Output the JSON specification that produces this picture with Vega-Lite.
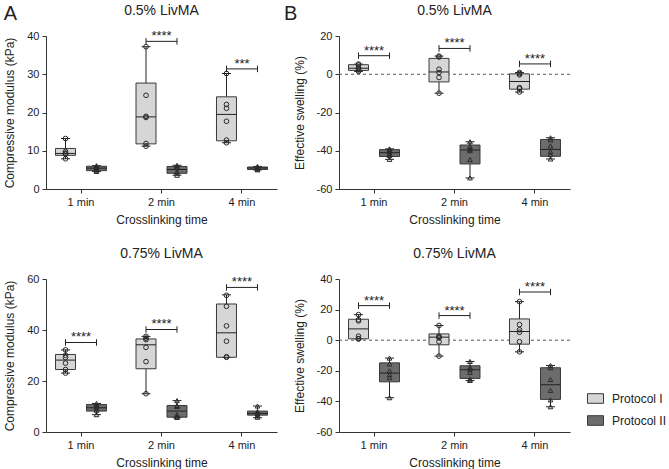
{
  "$schema": "https://vega.github.io/schema/vega-lite/v6.json",
  "background": "white",
  "padding": {"left": 3, "top": 4, "right": 5, "bottom": 2},
  "config": {
    "font": "Liberation Sans",
    "view": {"stroke": null},
    "axis": {"domainColor": "#333", "tickColor": "#333", "labelColor": "#222", "titleColor": "#222", "labelFontSize": 11, "titleFontSize": 12, "titleFontWeight": "normal", "grid": false, "tickSize": 4, "labelPadding": 3, "labelOverlap": false},
    "axisX": {"labelAngle": 0, "titlePadding": 7},
    "axisY": {"titlePadding": 10, "tickCount": 12},
    "title": {"fontSize": 14, "fontWeight": "normal", "color": "#222", "frame": "group", "offset": 12},
    "legend": {"labelFontSize": 12, "labelColor": "#222"}
  },
  "datasets": {
    "box": [
      {"panel": "A1", "time": "1 min", "protocol": "Protocol I", "min": 7.9, "q1": 8.8, "median": 9.3, "q3": 10.6, "max": 13.2},
      {"panel": "A1", "time": "1 min", "protocol": "Protocol II", "min": 4.6, "q1": 4.8, "median": 5.45, "q3": 5.95, "max": 6.1},
      {"panel": "A1", "time": "2 min", "protocol": "Protocol I", "min": 11.2, "q1": 11.8, "median": 18.85, "q3": 27.7, "max": 37.2},
      {"panel": "A1", "time": "2 min", "protocol": "Protocol II", "min": 3.6, "q1": 4.1, "median": 5.1, "q3": 5.9, "max": 6.2},
      {"panel": "A1", "time": "4 min", "protocol": "Protocol I", "min": 12.1, "q1": 12.6, "median": 19.5, "q3": 24.1, "max": 30.2},
      {"panel": "A1", "time": "4 min", "protocol": "Protocol II", "min": 5.0, "q1": 5.1, "median": 5.5, "q3": 5.75, "max": 5.9},
      {"panel": "B1", "time": "1 min", "protocol": "Protocol I", "min": 1.5, "q1": 2.0, "median": 3.15, "q3": 5.0, "max": 5.3},
      {"panel": "B1", "time": "1 min", "protocol": "Protocol II", "min": -44.5, "q1": -43.0, "median": -41.0, "q3": -39.4, "max": -39.0},
      {"panel": "B1", "time": "2 min", "protocol": "Protocol I", "min": -9.9, "q1": -4.0, "median": 1.2, "q3": 8.3, "max": 9.5},
      {"panel": "B1", "time": "2 min", "protocol": "Protocol II", "min": -54.2, "q1": -46.9, "median": -39.6, "q3": -37.0, "max": -35.3},
      {"panel": "B1", "time": "4 min", "protocol": "Protocol I", "min": -9.3, "q1": -7.8, "median": -3.8, "q3": 0.2, "max": 0.9},
      {"panel": "B1", "time": "4 min", "protocol": "Protocol II", "min": -44.3, "q1": -42.9, "median": -39.3, "q3": -34.1, "max": -33.2},
      {"panel": "A2", "time": "1 min", "protocol": "Protocol I", "min": 23.1, "q1": 24.5, "median": 28.2, "q3": 30.4, "max": 32.2},
      {"panel": "A2", "time": "1 min", "protocol": "Protocol II", "min": 6.8, "q1": 8.2, "median": 9.5, "q3": 10.8, "max": 11.2},
      {"panel": "A2", "time": "2 min", "protocol": "Protocol I", "min": 15.0, "q1": 24.8, "median": 34.2, "q3": 36.5, "max": 37.5},
      {"panel": "A2", "time": "2 min", "protocol": "Protocol II", "min": 5.6, "q1": 5.8, "median": 8.2, "q3": 10.4, "max": 12.3},
      {"panel": "A2", "time": "4 min", "protocol": "Protocol I", "min": 29.3, "q1": 29.3, "median": 38.9, "q3": 50.2, "max": 53.8},
      {"panel": "A2", "time": "4 min", "protocol": "Protocol II", "min": 5.6, "q1": 6.6, "median": 7.3, "q3": 8.2, "max": 10.2},
      {"panel": "B2", "time": "1 min", "protocol": "Protocol I", "min": 0.9, "q1": 0.9, "median": 7.4, "q3": 13.7, "max": 16.7},
      {"panel": "B2", "time": "1 min", "protocol": "Protocol II", "min": -37.6, "q1": -27.2, "median": -21.5, "q3": -14.8, "max": -11.7},
      {"panel": "B2", "time": "2 min", "protocol": "Protocol I", "min": -10.4, "q1": -3.0, "median": 2.0, "q3": 4.1, "max": 9.6},
      {"panel": "B2", "time": "2 min", "protocol": "Protocol II", "min": -26.3, "q1": -25.0, "median": -19.3, "q3": -16.7, "max": -13.9},
      {"panel": "B2", "time": "4 min", "protocol": "Protocol I", "min": -7.6, "q1": -2.6, "median": 5.7, "q3": 13.9, "max": 25.2},
      {"panel": "B2", "time": "4 min", "protocol": "Protocol II", "min": -43.5, "q1": -38.7, "median": -29.1, "q3": -18.0, "max": -16.5}
    ],
    "pts": [
      {"panel": "A1", "time": "1 min", "protocol": "Protocol I", "value": 13.2},
      {"panel": "A1", "time": "1 min", "protocol": "Protocol I", "value": 9.8},
      {"panel": "A1", "time": "1 min", "protocol": "Protocol I", "value": 9.4},
      {"panel": "A1", "time": "1 min", "protocol": "Protocol I", "value": 9.2},
      {"panel": "A1", "time": "1 min", "protocol": "Protocol I", "value": 9.1},
      {"panel": "A1", "time": "1 min", "protocol": "Protocol I", "value": 7.9},
      {"panel": "A1", "time": "1 min", "protocol": "Protocol II", "value": 6.1},
      {"panel": "A1", "time": "1 min", "protocol": "Protocol II", "value": 5.9},
      {"panel": "A1", "time": "1 min", "protocol": "Protocol II", "value": 5.6},
      {"panel": "A1", "time": "1 min", "protocol": "Protocol II", "value": 5.3},
      {"panel": "A1", "time": "1 min", "protocol": "Protocol II", "value": 4.9},
      {"panel": "A1", "time": "1 min", "protocol": "Protocol II", "value": 4.6},
      {"panel": "A1", "time": "2 min", "protocol": "Protocol I", "value": 37.2},
      {"panel": "A1", "time": "2 min", "protocol": "Protocol I", "value": 24.5},
      {"panel": "A1", "time": "2 min", "protocol": "Protocol I", "value": 19.0},
      {"panel": "A1", "time": "2 min", "protocol": "Protocol I", "value": 18.7},
      {"panel": "A1", "time": "2 min", "protocol": "Protocol I", "value": 11.9},
      {"panel": "A1", "time": "2 min", "protocol": "Protocol I", "value": 11.2},
      {"panel": "A1", "time": "2 min", "protocol": "Protocol II", "value": 6.2},
      {"panel": "A1", "time": "2 min", "protocol": "Protocol II", "value": 5.8},
      {"panel": "A1", "time": "2 min", "protocol": "Protocol II", "value": 5.6},
      {"panel": "A1", "time": "2 min", "protocol": "Protocol II", "value": 4.6},
      {"panel": "A1", "time": "2 min", "protocol": "Protocol II", "value": 4.2},
      {"panel": "A1", "time": "2 min", "protocol": "Protocol II", "value": 3.6},
      {"panel": "A1", "time": "4 min", "protocol": "Protocol I", "value": 30.2},
      {"panel": "A1", "time": "4 min", "protocol": "Protocol I", "value": 22.1},
      {"panel": "A1", "time": "4 min", "protocol": "Protocol I", "value": 21.1},
      {"panel": "A1", "time": "4 min", "protocol": "Protocol I", "value": 17.7},
      {"panel": "A1", "time": "4 min", "protocol": "Protocol I", "value": 12.8},
      {"panel": "A1", "time": "4 min", "protocol": "Protocol I", "value": 12.1},
      {"panel": "A1", "time": "4 min", "protocol": "Protocol II", "value": 5.9},
      {"panel": "A1", "time": "4 min", "protocol": "Protocol II", "value": 5.7},
      {"panel": "A1", "time": "4 min", "protocol": "Protocol II", "value": 5.6},
      {"panel": "A1", "time": "4 min", "protocol": "Protocol II", "value": 5.4},
      {"panel": "A1", "time": "4 min", "protocol": "Protocol II", "value": 5.2},
      {"panel": "A1", "time": "4 min", "protocol": "Protocol II", "value": 5.0},
      {"panel": "B1", "time": "1 min", "protocol": "Protocol I", "value": 5.3},
      {"panel": "B1", "time": "1 min", "protocol": "Protocol I", "value": 4.9},
      {"panel": "B1", "time": "1 min", "protocol": "Protocol I", "value": 3.4},
      {"panel": "B1", "time": "1 min", "protocol": "Protocol I", "value": 2.9},
      {"panel": "B1", "time": "1 min", "protocol": "Protocol I", "value": 2.2},
      {"panel": "B1", "time": "1 min", "protocol": "Protocol I", "value": 1.5},
      {"panel": "B1", "time": "1 min", "protocol": "Protocol II", "value": -39.0},
      {"panel": "B1", "time": "1 min", "protocol": "Protocol II", "value": -39.5},
      {"panel": "B1", "time": "1 min", "protocol": "Protocol II", "value": -40.5},
      {"panel": "B1", "time": "1 min", "protocol": "Protocol II", "value": -41.5},
      {"panel": "B1", "time": "1 min", "protocol": "Protocol II", "value": -42.5},
      {"panel": "B1", "time": "1 min", "protocol": "Protocol II", "value": -44.5},
      {"panel": "B1", "time": "2 min", "protocol": "Protocol I", "value": 9.5},
      {"panel": "B1", "time": "2 min", "protocol": "Protocol I", "value": 9.0},
      {"panel": "B1", "time": "2 min", "protocol": "Protocol I", "value": 2.6},
      {"panel": "B1", "time": "2 min", "protocol": "Protocol I", "value": 0.9},
      {"panel": "B1", "time": "2 min", "protocol": "Protocol I", "value": -1.7},
      {"panel": "B1", "time": "2 min", "protocol": "Protocol I", "value": -9.9},
      {"panel": "B1", "time": "2 min", "protocol": "Protocol II", "value": -35.3},
      {"panel": "B1", "time": "2 min", "protocol": "Protocol II", "value": -37.8},
      {"panel": "B1", "time": "2 min", "protocol": "Protocol II", "value": -39.2},
      {"panel": "B1", "time": "2 min", "protocol": "Protocol II", "value": -40.0},
      {"panel": "B1", "time": "2 min", "protocol": "Protocol II", "value": -44.6},
      {"panel": "B1", "time": "2 min", "protocol": "Protocol II", "value": -54.2},
      {"panel": "B1", "time": "4 min", "protocol": "Protocol I", "value": 0.9},
      {"panel": "B1", "time": "4 min", "protocol": "Protocol I", "value": 0.3},
      {"panel": "B1", "time": "4 min", "protocol": "Protocol I", "value": -0.3},
      {"panel": "B1", "time": "4 min", "protocol": "Protocol I", "value": -7.0},
      {"panel": "B1", "time": "4 min", "protocol": "Protocol I", "value": -7.6},
      {"panel": "B1", "time": "4 min", "protocol": "Protocol I", "value": -9.3},
      {"panel": "B1", "time": "4 min", "protocol": "Protocol II", "value": -33.2},
      {"panel": "B1", "time": "4 min", "protocol": "Protocol II", "value": -34.3},
      {"panel": "B1", "time": "4 min", "protocol": "Protocol II", "value": -37.5},
      {"panel": "B1", "time": "4 min", "protocol": "Protocol II", "value": -40.5},
      {"panel": "B1", "time": "4 min", "protocol": "Protocol II", "value": -42.0},
      {"panel": "B1", "time": "4 min", "protocol": "Protocol II", "value": -44.3},
      {"panel": "A2", "time": "1 min", "protocol": "Protocol I", "value": 32.2},
      {"panel": "A2", "time": "1 min", "protocol": "Protocol I", "value": 30.1},
      {"panel": "A2", "time": "1 min", "protocol": "Protocol I", "value": 29.2},
      {"panel": "A2", "time": "1 min", "protocol": "Protocol I", "value": 27.0},
      {"panel": "A2", "time": "1 min", "protocol": "Protocol I", "value": 24.5},
      {"panel": "A2", "time": "1 min", "protocol": "Protocol I", "value": 23.1},
      {"panel": "A2", "time": "1 min", "protocol": "Protocol II", "value": 11.2},
      {"panel": "A2", "time": "1 min", "protocol": "Protocol II", "value": 10.6},
      {"panel": "A2", "time": "1 min", "protocol": "Protocol II", "value": 9.9},
      {"panel": "A2", "time": "1 min", "protocol": "Protocol II", "value": 9.2},
      {"panel": "A2", "time": "1 min", "protocol": "Protocol II", "value": 8.5},
      {"panel": "A2", "time": "1 min", "protocol": "Protocol II", "value": 6.8},
      {"panel": "A2", "time": "2 min", "protocol": "Protocol I", "value": 37.5},
      {"panel": "A2", "time": "2 min", "protocol": "Protocol I", "value": 36.8},
      {"panel": "A2", "time": "2 min", "protocol": "Protocol I", "value": 36.2},
      {"panel": "A2", "time": "2 min", "protocol": "Protocol I", "value": 33.2},
      {"panel": "A2", "time": "2 min", "protocol": "Protocol I", "value": 27.6},
      {"panel": "A2", "time": "2 min", "protocol": "Protocol I", "value": 15.0},
      {"panel": "A2", "time": "2 min", "protocol": "Protocol II", "value": 12.3},
      {"panel": "A2", "time": "2 min", "protocol": "Protocol II", "value": 10.4},
      {"panel": "A2", "time": "2 min", "protocol": "Protocol II", "value": 10.0},
      {"panel": "A2", "time": "2 min", "protocol": "Protocol II", "value": 6.8},
      {"panel": "A2", "time": "2 min", "protocol": "Protocol II", "value": 6.0},
      {"panel": "A2", "time": "2 min", "protocol": "Protocol II", "value": 5.7},
      {"panel": "A2", "time": "4 min", "protocol": "Protocol I", "value": 53.6},
      {"panel": "A2", "time": "4 min", "protocol": "Protocol I", "value": 49.3},
      {"panel": "A2", "time": "4 min", "protocol": "Protocol I", "value": 41.6},
      {"panel": "A2", "time": "4 min", "protocol": "Protocol I", "value": 35.6},
      {"panel": "A2", "time": "4 min", "protocol": "Protocol I", "value": 29.5},
      {"panel": "A2", "time": "4 min", "protocol": "Protocol I", "value": 29.3},
      {"panel": "A2", "time": "4 min", "protocol": "Protocol II", "value": 10.2},
      {"panel": "A2", "time": "4 min", "protocol": "Protocol II", "value": 8.0},
      {"panel": "A2", "time": "4 min", "protocol": "Protocol II", "value": 7.5},
      {"panel": "A2", "time": "4 min", "protocol": "Protocol II", "value": 7.0},
      {"panel": "A2", "time": "4 min", "protocol": "Protocol II", "value": 6.3},
      {"panel": "A2", "time": "4 min", "protocol": "Protocol II", "value": 5.8},
      {"panel": "B2", "time": "1 min", "protocol": "Protocol I", "value": 16.7},
      {"panel": "B2", "time": "1 min", "protocol": "Protocol I", "value": 13.4},
      {"panel": "B2", "time": "1 min", "protocol": "Protocol I", "value": 12.6},
      {"panel": "B2", "time": "1 min", "protocol": "Protocol I", "value": 2.6},
      {"panel": "B2", "time": "1 min", "protocol": "Protocol I", "value": 1.0},
      {"panel": "B2", "time": "1 min", "protocol": "Protocol I", "value": 0.8},
      {"panel": "B2", "time": "1 min", "protocol": "Protocol II", "value": -11.7},
      {"panel": "B2", "time": "1 min", "protocol": "Protocol II", "value": -15.5},
      {"panel": "B2", "time": "1 min", "protocol": "Protocol II", "value": -20.0},
      {"panel": "B2", "time": "1 min", "protocol": "Protocol II", "value": -22.5},
      {"panel": "B2", "time": "1 min", "protocol": "Protocol II", "value": -24.5},
      {"panel": "B2", "time": "1 min", "protocol": "Protocol II", "value": -37.6},
      {"panel": "B2", "time": "2 min", "protocol": "Protocol I", "value": 9.6},
      {"panel": "B2", "time": "2 min", "protocol": "Protocol I", "value": 2.6},
      {"panel": "B2", "time": "2 min", "protocol": "Protocol I", "value": 2.1},
      {"panel": "B2", "time": "2 min", "protocol": "Protocol I", "value": 1.5},
      {"panel": "B2", "time": "2 min", "protocol": "Protocol I", "value": -1.0},
      {"panel": "B2", "time": "2 min", "protocol": "Protocol I", "value": -10.4},
      {"panel": "B2", "time": "2 min", "protocol": "Protocol II", "value": -13.9},
      {"panel": "B2", "time": "2 min", "protocol": "Protocol II", "value": -17.8},
      {"panel": "B2", "time": "2 min", "protocol": "Protocol II", "value": -19.0},
      {"panel": "B2", "time": "2 min", "protocol": "Protocol II", "value": -21.0},
      {"panel": "B2", "time": "2 min", "protocol": "Protocol II", "value": -25.5},
      {"panel": "B2", "time": "2 min", "protocol": "Protocol II", "value": -26.3},
      {"panel": "B2", "time": "4 min", "protocol": "Protocol I", "value": 25.2},
      {"panel": "B2", "time": "4 min", "protocol": "Protocol I", "value": 10.2},
      {"panel": "B2", "time": "4 min", "protocol": "Protocol I", "value": 6.8},
      {"panel": "B2", "time": "4 min", "protocol": "Protocol I", "value": 5.2},
      {"panel": "B2", "time": "4 min", "protocol": "Protocol I", "value": -1.0},
      {"panel": "B2", "time": "4 min", "protocol": "Protocol I", "value": -7.6},
      {"panel": "B2", "time": "4 min", "protocol": "Protocol II", "value": -16.5},
      {"panel": "B2", "time": "4 min", "protocol": "Protocol II", "value": -18.0},
      {"panel": "B2", "time": "4 min", "protocol": "Protocol II", "value": -25.7},
      {"panel": "B2", "time": "4 min", "protocol": "Protocol II", "value": -32.8},
      {"panel": "B2", "time": "4 min", "protocol": "Protocol II", "value": -39.0},
      {"panel": "B2", "time": "4 min", "protocol": "Protocol II", "value": -43.5}
    ],
    "sig": [
      {"panel": "A1", "time": "2 min", "y": 38.6, "label": "****"},
      {"panel": "A1", "time": "4 min", "y": 31.4, "label": "***"},
      {"panel": "B1", "time": "1 min", "y": 9.7, "label": "****"},
      {"panel": "B1", "time": "2 min", "y": 13.5, "label": "****"},
      {"panel": "B1", "time": "4 min", "y": 5.4, "label": "****"},
      {"panel": "A2", "time": "1 min", "y": 35.1, "label": "****"},
      {"panel": "A2", "time": "2 min", "y": 40.2, "label": "****"},
      {"panel": "A2", "time": "4 min", "y": 56.7, "label": "****"},
      {"panel": "B2", "time": "1 min", "y": 22.6, "label": "****"},
      {"panel": "B2", "time": "2 min", "y": 16.1, "label": "****"},
      {"panel": "B2", "time": "4 min", "y": 31.5, "label": "****"}
    ],
    "zero": [{"ref": 0}]
  },
  "resolve": {"legend": {"fill": "independent"}},
  "spacing": 7,
  "hconcat": [
    {
      "title": {"text": "A", "anchor": "start", "frame": "bounds", "fontSize": 20, "offset": -20},
      "resolve": {"legend": {"fill": "independent"}},
      "spacing": 22,
      "vconcat": [
        {
          "title": "0.5% LivMA",
          "width": 231, "height": 153,
          "layer": [
            {"data": {"name": "box"}, "transform": [{"filter": "datum.panel === 'A1'"}],
             "mark": {"type": "rule", "color": "#222"},
             "encoding": {
               "x": {"field": "time", "type": "nominal", "sort": ["1 min", "2 min", "4 min"], "scale": {"paddingInner": 0.13, "paddingOuter": 0}, "axis": {"title": "Crosslinking time"}},
               "xOffset": {"field": "protocol", "type": "nominal", "scale": {"paddingInner": 0.355, "paddingOuter": 0.307}},
               "y": {"field": "min", "type": "quantitative", "scale": {"domain": [0, 40], "nice": false}, "axis": {"title": "Compressive modulus (kPa)", "values": [0, 10, 20, 30, 40], "tickCount": 12}},
               "y2": {"field": "max"}}},
            {"data": {"name": "box"}, "transform": [{"filter": "datum.panel === 'A1'"}, {"fold": ["min", "max"], "as": ["stat", "v"]}],
             "mark": {"type": "tick", "color": "#222", "size": 9, "thickness": 1, "opacity": 1},
             "encoding": {"x": {"field": "time", "type": "nominal"}, "xOffset": {"field": "protocol", "type": "nominal"}, "y": {"field": "v", "type": "quantitative"}}},
            {"data": {"name": "box"}, "transform": [{"filter": "datum.panel === 'A1'"}],
             "mark": {"type": "bar", "stroke": "#3a3a3a", "strokeWidth": 1},
             "encoding": {"x": {"field": "time", "type": "nominal"}, "xOffset": {"field": "protocol", "type": "nominal"}, "y": {"field": "q1", "type": "quantitative"}, "y2": {"field": "q3"},
               "fill": {"field": "protocol", "type": "nominal", "scale": {"domain": ["Protocol I", "Protocol II"], "range": ["#d6d6d6", "#6c6c6c"]}, "legend": null}}},
            {"data": {"name": "box"}, "transform": [{"filter": "datum.panel === 'A1'"}],
             "mark": {"type": "tick", "color": "#222", "size": 20, "thickness": 1, "opacity": 1},
             "encoding": {"x": {"field": "time", "type": "nominal"}, "xOffset": {"field": "protocol", "type": "nominal"}, "y": {"field": "median", "type": "quantitative"}}},
            {"data": {"name": "pts"}, "transform": [{"filter": "datum.panel === 'A1'"}],
             "mark": {"type": "point", "filled": false, "color": "#2a2a2a", "size": 22, "strokeWidth": 1, "opacity": 1},
             "encoding": {"x": {"field": "time", "type": "nominal"}, "xOffset": {"field": "protocol", "type": "nominal"}, "y": {"field": "value", "type": "quantitative"},
               "shape": {"field": "protocol", "type": "nominal", "scale": {"domain": ["Protocol I", "Protocol II"], "range": ["circle", "triangle-up"]}, "legend": null}}},
            {"data": {"name": "sig"}, "transform": [{"filter": "datum.panel === 'A1'"}],
             "mark": {"type": "tick", "color": "#222", "size": 31, "thickness": 1, "opacity": 1},
             "encoding": {"x": {"field": "time", "type": "nominal"}, "y": {"field": "y", "type": "quantitative"}}},
            {"data": {"name": "sig"}, "transform": [{"filter": "datum.panel === 'A1'"}],
             "mark": {"type": "point", "shape": "M0,-1V1", "size": 42, "color": "#222", "strokeWidth": 1, "opacity": 1},
             "encoding": {"x": {"field": "time", "type": "nominal"}, "xOffset": {"datum": "Protocol I"}, "y": {"field": "y", "type": "quantitative"}}},
            {"data": {"name": "sig"}, "transform": [{"filter": "datum.panel === 'A1'"}],
             "mark": {"type": "point", "shape": "M0,-1V1", "size": 42, "color": "#222", "strokeWidth": 1, "opacity": 1},
             "encoding": {"x": {"field": "time", "type": "nominal"}, "xOffset": {"datum": "Protocol II"}, "y": {"field": "y", "type": "quantitative"}}},
            {"data": {"name": "sig"}, "transform": [{"filter": "datum.panel === 'A1'"}],
             "mark": {"type": "text", "fontSize": 13, "color": "#222", "baseline": "alphabetic", "dy": -1},
             "encoding": {"x": {"field": "time", "type": "nominal"}, "y": {"field": "y", "type": "quantitative"}, "text": {"field": "label"}}}
          ]
        },
        {
          "title": "0.75% LivMA",
          "width": 231, "height": 153,
          "layer": [
            {"data": {"name": "box"}, "transform": [{"filter": "datum.panel === 'A2'"}],
             "mark": {"type": "rule", "color": "#222"},
             "encoding": {
               "x": {"field": "time", "type": "nominal", "sort": ["1 min", "2 min", "4 min"], "scale": {"paddingInner": 0.13, "paddingOuter": 0}, "axis": {"title": "Crosslinking time"}},
               "xOffset": {"field": "protocol", "type": "nominal", "scale": {"paddingInner": 0.355, "paddingOuter": 0.307}},
               "y": {"field": "min", "type": "quantitative", "scale": {"domain": [0, 60], "nice": false}, "axis": {"title": "Compressive modulus (kPa)", "values": [0, 20, 40, 60], "tickCount": 12}},
               "y2": {"field": "max"}}},
            {"data": {"name": "box"}, "transform": [{"filter": "datum.panel === 'A2'"}, {"fold": ["min", "max"], "as": ["stat", "v"]}],
             "mark": {"type": "tick", "color": "#222", "size": 9, "thickness": 1, "opacity": 1},
             "encoding": {"x": {"field": "time", "type": "nominal"}, "xOffset": {"field": "protocol", "type": "nominal"}, "y": {"field": "v", "type": "quantitative"}}},
            {"data": {"name": "box"}, "transform": [{"filter": "datum.panel === 'A2'"}],
             "mark": {"type": "bar", "stroke": "#3a3a3a", "strokeWidth": 1},
             "encoding": {"x": {"field": "time", "type": "nominal"}, "xOffset": {"field": "protocol", "type": "nominal"}, "y": {"field": "q1", "type": "quantitative"}, "y2": {"field": "q3"},
               "fill": {"field": "protocol", "type": "nominal", "scale": {"domain": ["Protocol I", "Protocol II"], "range": ["#d6d6d6", "#6c6c6c"]}, "legend": null}}},
            {"data": {"name": "box"}, "transform": [{"filter": "datum.panel === 'A2'"}],
             "mark": {"type": "tick", "color": "#222", "size": 20, "thickness": 1, "opacity": 1},
             "encoding": {"x": {"field": "time", "type": "nominal"}, "xOffset": {"field": "protocol", "type": "nominal"}, "y": {"field": "median", "type": "quantitative"}}},
            {"data": {"name": "pts"}, "transform": [{"filter": "datum.panel === 'A2'"}],
             "mark": {"type": "point", "filled": false, "color": "#2a2a2a", "size": 22, "strokeWidth": 1, "opacity": 1},
             "encoding": {"x": {"field": "time", "type": "nominal"}, "xOffset": {"field": "protocol", "type": "nominal"}, "y": {"field": "value", "type": "quantitative"},
               "shape": {"field": "protocol", "type": "nominal", "scale": {"domain": ["Protocol I", "Protocol II"], "range": ["circle", "triangle-up"]}, "legend": null}}},
            {"data": {"name": "sig"}, "transform": [{"filter": "datum.panel === 'A2'"}],
             "mark": {"type": "tick", "color": "#222", "size": 31, "thickness": 1, "opacity": 1},
             "encoding": {"x": {"field": "time", "type": "nominal"}, "y": {"field": "y", "type": "quantitative"}}},
            {"data": {"name": "sig"}, "transform": [{"filter": "datum.panel === 'A2'"}],
             "mark": {"type": "point", "shape": "M0,-1V1", "size": 42, "color": "#222", "strokeWidth": 1, "opacity": 1},
             "encoding": {"x": {"field": "time", "type": "nominal"}, "xOffset": {"datum": "Protocol I"}, "y": {"field": "y", "type": "quantitative"}}},
            {"data": {"name": "sig"}, "transform": [{"filter": "datum.panel === 'A2'"}],
             "mark": {"type": "point", "shape": "M0,-1V1", "size": 42, "color": "#222", "strokeWidth": 1, "opacity": 1},
             "encoding": {"x": {"field": "time", "type": "nominal"}, "xOffset": {"datum": "Protocol II"}, "y": {"field": "y", "type": "quantitative"}}},
            {"data": {"name": "sig"}, "transform": [{"filter": "datum.panel === 'A2'"}],
             "mark": {"type": "text", "fontSize": 13, "color": "#222", "baseline": "alphabetic", "dy": -1},
             "encoding": {"x": {"field": "time", "type": "nominal"}, "y": {"field": "y", "type": "quantitative"}, "text": {"field": "label"}}}
          ]
        }
      ]
    },
    {
      "title": {"text": "B", "anchor": "start", "frame": "bounds", "fontSize": 20, "offset": -20, "dx": -9},
      "resolve": {"legend": {"fill": "independent"}},
      "spacing": 22,
      "vconcat": [
        {
          "title": "0.5% LivMA",
          "width": 231, "height": 153,
          "layer": [
            {"data": {"name": "box"}, "transform": [{"filter": "datum.panel === 'B1'"}],
             "mark": {"type": "rule", "color": "#222"},
             "encoding": {
               "x": {"field": "time", "type": "nominal", "sort": ["1 min", "2 min", "4 min"], "scale": {"paddingInner": 0.13, "paddingOuter": 0}, "axis": {"title": "Crosslinking time"}},
               "xOffset": {"field": "protocol", "type": "nominal", "scale": {"paddingInner": 0.355, "paddingOuter": 0.307}},
               "y": {"field": "min", "type": "quantitative", "scale": {"domain": [-60, 20], "nice": false}, "axis": {"title": "Effective swelling (%)", "values": [-60, -40, -20, 0, 20], "tickCount": 12, "labelExpr": "replace(datum.label, '−', '-')"}},
               "y2": {"field": "max"}}},
            {"data": {"name": "zero"},
             "mark": {"type": "rule", "color": "#555", "strokeDash": [3, 3]},
             "encoding": {"y": {"datum": 0}}},
            {"data": {"name": "box"}, "transform": [{"filter": "datum.panel === 'B1'"}, {"fold": ["min", "max"], "as": ["stat", "v"]}],
             "mark": {"type": "tick", "color": "#222", "size": 9, "thickness": 1, "opacity": 1},
             "encoding": {"x": {"field": "time", "type": "nominal"}, "xOffset": {"field": "protocol", "type": "nominal"}, "y": {"field": "v", "type": "quantitative"}}},
            {"data": {"name": "box"}, "transform": [{"filter": "datum.panel === 'B1'"}],
             "mark": {"type": "bar", "stroke": "#3a3a3a", "strokeWidth": 1},
             "encoding": {"x": {"field": "time", "type": "nominal"}, "xOffset": {"field": "protocol", "type": "nominal"}, "y": {"field": "q1", "type": "quantitative"}, "y2": {"field": "q3"},
               "fill": {"field": "protocol", "type": "nominal", "scale": {"domain": ["Protocol I", "Protocol II"], "range": ["#d6d6d6", "#6c6c6c"]}, "legend": null}}},
            {"data": {"name": "box"}, "transform": [{"filter": "datum.panel === 'B1'"}],
             "mark": {"type": "tick", "color": "#222", "size": 20, "thickness": 1, "opacity": 1},
             "encoding": {"x": {"field": "time", "type": "nominal"}, "xOffset": {"field": "protocol", "type": "nominal"}, "y": {"field": "median", "type": "quantitative"}}},
            {"data": {"name": "pts"}, "transform": [{"filter": "datum.panel === 'B1'"}],
             "mark": {"type": "point", "filled": false, "color": "#2a2a2a", "size": 22, "strokeWidth": 1, "opacity": 1},
             "encoding": {"x": {"field": "time", "type": "nominal"}, "xOffset": {"field": "protocol", "type": "nominal"}, "y": {"field": "value", "type": "quantitative"},
               "shape": {"field": "protocol", "type": "nominal", "scale": {"domain": ["Protocol I", "Protocol II"], "range": ["circle", "triangle-up"]}, "legend": null}}},
            {"data": {"name": "sig"}, "transform": [{"filter": "datum.panel === 'B1'"}],
             "mark": {"type": "tick", "color": "#222", "size": 31, "thickness": 1, "opacity": 1},
             "encoding": {"x": {"field": "time", "type": "nominal"}, "y": {"field": "y", "type": "quantitative"}}},
            {"data": {"name": "sig"}, "transform": [{"filter": "datum.panel === 'B1'"}],
             "mark": {"type": "point", "shape": "M0,-1V1", "size": 42, "color": "#222", "strokeWidth": 1, "opacity": 1},
             "encoding": {"x": {"field": "time", "type": "nominal"}, "xOffset": {"datum": "Protocol I"}, "y": {"field": "y", "type": "quantitative"}}},
            {"data": {"name": "sig"}, "transform": [{"filter": "datum.panel === 'B1'"}],
             "mark": {"type": "point", "shape": "M0,-1V1", "size": 42, "color": "#222", "strokeWidth": 1, "opacity": 1},
             "encoding": {"x": {"field": "time", "type": "nominal"}, "xOffset": {"datum": "Protocol II"}, "y": {"field": "y", "type": "quantitative"}}},
            {"data": {"name": "sig"}, "transform": [{"filter": "datum.panel === 'B1'"}],
             "mark": {"type": "text", "fontSize": 13, "color": "#222", "baseline": "alphabetic", "dy": -1},
             "encoding": {"x": {"field": "time", "type": "nominal"}, "y": {"field": "y", "type": "quantitative"}, "text": {"field": "label"}}}
          ]
        },
        {
          "title": "0.75% LivMA",
          "width": 231, "height": 153,
          "layer": [
            {"data": {"name": "box"}, "transform": [{"filter": "datum.panel === 'B2'"}],
             "mark": {"type": "rule", "color": "#222"},
             "encoding": {
               "x": {"field": "time", "type": "nominal", "sort": ["1 min", "2 min", "4 min"], "scale": {"paddingInner": 0.13, "paddingOuter": 0}, "axis": {"title": "Crosslinking time"}},
               "xOffset": {"field": "protocol", "type": "nominal", "scale": {"paddingInner": 0.355, "paddingOuter": 0.307}},
               "y": {"field": "min", "type": "quantitative", "scale": {"domain": [-60, 40], "nice": false}, "axis": {"title": "Effective swelling (%)", "values": [-60, -40, -20, 0, 20, 40], "tickCount": 12, "labelExpr": "replace(datum.label, '−', '-')"}},
               "y2": {"field": "max"}}},
            {"data": {"name": "zero"},
             "mark": {"type": "rule", "color": "#555", "strokeDash": [3, 3]},
             "encoding": {"y": {"datum": 0}}},
            {"data": {"name": "box"}, "transform": [{"filter": "datum.panel === 'B2'"}, {"fold": ["min", "max"], "as": ["stat", "v"]}],
             "mark": {"type": "tick", "color": "#222", "size": 9, "thickness": 1, "opacity": 1},
             "encoding": {"x": {"field": "time", "type": "nominal"}, "xOffset": {"field": "protocol", "type": "nominal"}, "y": {"field": "v", "type": "quantitative"}}},
            {"data": {"name": "box"}, "transform": [{"filter": "datum.panel === 'B2'"}],
             "mark": {"type": "bar", "stroke": "#3a3a3a", "strokeWidth": 1},
             "encoding": {"x": {"field": "time", "type": "nominal"}, "xOffset": {"field": "protocol", "type": "nominal"}, "y": {"field": "q1", "type": "quantitative"}, "y2": {"field": "q3"},
               "fill": {"field": "protocol", "type": "nominal", "scale": {"domain": ["Protocol I", "Protocol II"], "range": ["#d6d6d6", "#6c6c6c"]},
                 "legend": {"title": null, "orient": "none", "legendX": 248, "legendY": 111, "symbolType": "M-1,-0.6H1V0.6H-1Z", "symbolSize": 256, "symbolStrokeColor": "#3a3a3a", "symbolStrokeWidth": 1, "labelFontSize": 12, "labelOffset": 8, "rowPadding": 6}}}},
            {"data": {"name": "box"}, "transform": [{"filter": "datum.panel === 'B2'"}],
             "mark": {"type": "tick", "color": "#222", "size": 20, "thickness": 1, "opacity": 1},
             "encoding": {"x": {"field": "time", "type": "nominal"}, "xOffset": {"field": "protocol", "type": "nominal"}, "y": {"field": "median", "type": "quantitative"}}},
            {"data": {"name": "pts"}, "transform": [{"filter": "datum.panel === 'B2'"}],
             "mark": {"type": "point", "filled": false, "color": "#2a2a2a", "size": 22, "strokeWidth": 1, "opacity": 1},
             "encoding": {"x": {"field": "time", "type": "nominal"}, "xOffset": {"field": "protocol", "type": "nominal"}, "y": {"field": "value", "type": "quantitative"},
               "shape": {"field": "protocol", "type": "nominal", "scale": {"domain": ["Protocol I", "Protocol II"], "range": ["circle", "triangle-up"]}, "legend": null}}},
            {"data": {"name": "sig"}, "transform": [{"filter": "datum.panel === 'B2'"}],
             "mark": {"type": "tick", "color": "#222", "size": 31, "thickness": 1, "opacity": 1},
             "encoding": {"x": {"field": "time", "type": "nominal"}, "y": {"field": "y", "type": "quantitative"}}},
            {"data": {"name": "sig"}, "transform": [{"filter": "datum.panel === 'B2'"}],
             "mark": {"type": "point", "shape": "M0,-1V1", "size": 42, "color": "#222", "strokeWidth": 1, "opacity": 1},
             "encoding": {"x": {"field": "time", "type": "nominal"}, "xOffset": {"datum": "Protocol I"}, "y": {"field": "y", "type": "quantitative"}}},
            {"data": {"name": "sig"}, "transform": [{"filter": "datum.panel === 'B2'"}],
             "mark": {"type": "point", "shape": "M0,-1V1", "size": 42, "color": "#222", "strokeWidth": 1, "opacity": 1},
             "encoding": {"x": {"field": "time", "type": "nominal"}, "xOffset": {"datum": "Protocol II"}, "y": {"field": "y", "type": "quantitative"}}},
            {"data": {"name": "sig"}, "transform": [{"filter": "datum.panel === 'B2'"}],
             "mark": {"type": "text", "fontSize": 13, "color": "#222", "baseline": "alphabetic", "dy": -1},
             "encoding": {"x": {"field": "time", "type": "nominal"}, "y": {"field": "y", "type": "quantitative"}, "text": {"field": "label"}}}
          ]
        }
      ]
    }
  ]
}
